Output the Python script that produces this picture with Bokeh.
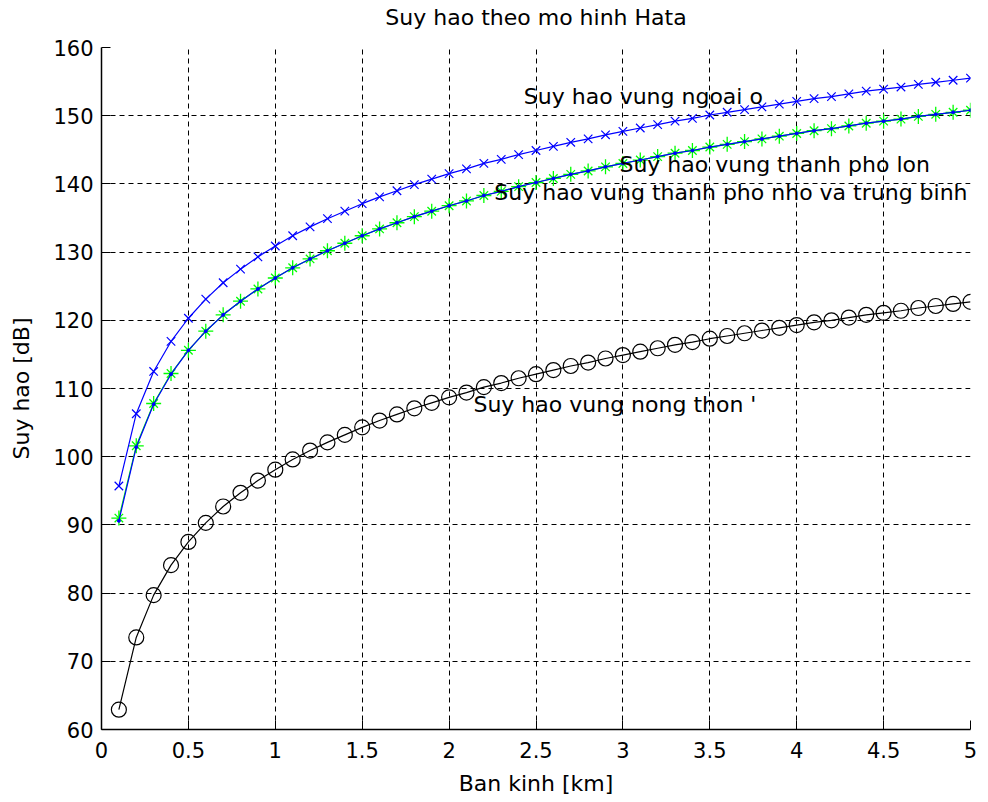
from bokeh.plotting import figure
from bokeh.models import FixedTicker, Range1d, Label, LinearAxis
from bokeh.embed import file_html
from bokeh.resources import INLINE

# ---- data ----
ban_kinh = [0.1, 0.2, 0.3, 0.4, 0.5, 0.6, 0.7, 0.8, 0.9, 1.0,
            1.1, 1.2, 1.3, 1.4, 1.5, 1.6, 1.7, 1.8, 1.9, 2.0,
            2.1, 2.2, 2.3, 2.4, 2.5, 2.6, 2.7, 2.8, 2.9, 3.0,
            3.1, 3.2, 3.3, 3.4, 3.5, 3.6, 3.7, 3.8, 3.9, 4.0,
            4.1, 4.2, 4.3, 4.4, 4.5, 4.6, 4.7, 4.8, 4.9, 5.0]

suy_hao_ngoai_o = [95.7, 106.3, 112.5, 116.9, 120.3, 123.1, 125.5, 127.5, 129.3, 130.9,
                   132.4, 133.7, 134.9, 136.0, 137.1, 138.1, 139.0, 139.9, 140.7, 141.5,
                   142.2, 143.0, 143.6, 144.3, 144.9, 145.5, 146.1, 146.6, 147.2, 147.7,
                   148.2, 148.7, 149.2, 149.6, 150.1, 150.5, 150.9, 151.3, 151.7, 152.1,
                   152.5, 152.8, 153.2, 153.6, 153.9, 154.2, 154.6, 154.9, 155.2, 155.5]

suy_hao_tp_lon = [91.0, 101.6, 107.8, 112.2, 115.6, 118.4, 120.8, 122.8, 124.6, 126.2,
                  127.7, 129.0, 130.2, 131.3, 132.4, 133.4, 134.3, 135.2, 136.0, 136.8,
                  137.5, 138.3, 138.9, 139.6, 140.2, 140.8, 141.4, 141.9, 142.5, 143.0,
                  143.5, 144.0, 144.5, 144.9, 145.4, 145.8, 146.2, 146.6, 147.0, 147.4,
                  147.8, 148.1, 148.5, 148.9, 149.2, 149.5, 149.9, 150.2, 150.5, 150.8]

suy_hao_tp_nho_tb = [90.6, 101.4, 107.7, 112.1, 115.6, 118.4, 120.8, 122.8, 124.6, 126.2,
                     127.7, 129.0, 130.2, 131.3, 132.4, 133.4, 134.3, 135.2, 136.0, 136.8,
                     137.5, 138.3, 138.9, 139.6, 140.2, 140.8, 141.4, 141.9, 142.5, 143.0,
                     143.5, 144.0, 144.5, 144.9, 145.4, 145.8, 146.2, 146.6, 147.0, 147.4,
                     147.8, 148.1, 148.5, 148.9, 149.2, 149.5, 149.9, 150.2, 150.5, 150.8]

suy_hao_nong_thon = [62.9, 73.5, 79.7, 84.1, 87.5, 90.3, 92.7, 94.7, 96.5, 98.1,
                     99.6, 100.9, 102.1, 103.2, 104.3, 105.3, 106.2, 107.1, 107.9, 108.7,
                     109.4, 110.2, 110.8, 111.5, 112.1, 112.7, 113.3, 113.8, 114.4, 114.9,
                     115.4, 115.9, 116.4, 116.8, 117.3, 117.7, 118.1, 118.5, 118.9, 119.3,
                     119.7, 120.0, 120.4, 120.8, 121.1, 121.4, 121.8, 122.1, 122.4, 122.7]

x_ticks = [0, 0.5, 1, 1.5, 2, 2.5, 3, 3.5, 4, 4.5, 5]
x_tick_labels = ["0", "0.5", "1", "1.5", "2", "2.5", "3", "3.5", "4", "4.5", "5"]
y_ticks = [60, 70, 80, 90, 100, 110, 120, 130, 140, 150, 160]
y_tick_labels = ["60", "70", "80", "90", "100", "110", "120", "130", "140", "150", "160"]

nhan_text = ["Suy hao vung ngoai o",
             "Suy hao vung thanh pho lon",
             "Suy hao vung thanh pho nho va trung binh",
             "Suy hao vung nong thon '"]
nhan_x = [2.43, 2.98, 2.26, 2.14]
nhan_y = [152.8, 142.8, 138.7, 107.6]

tieu_de = "Suy hao theo mo hinh Hata"
nhan_truc_x = "Ban kinh [km]"
nhan_truc_y = "Suy hao [dB]"

FONT = "DejaVu Sans"

p = figure(width=980, height=798, output_backend="svg", toolbar_location=None,
           x_range=Range1d(0, 5), y_range=Range1d(60, 160),
           min_border_left=101, min_border_right=10, min_border_top=47, min_border_bottom=66)
p.outline_line_color = None
p.background_fill_color = "white"
p.border_fill_color = "white"

for ax, ticks, labels in ((p.xaxis[0], x_ticks, x_tick_labels), (p.yaxis[0], y_ticks, y_tick_labels)):
    ax.ticker = FixedTicker(ticks=ticks)
    ax.major_label_overrides = {float(t): l for t, l in zip(ticks, labels)}
    ax.major_label_text_font = FONT
    ax.major_label_text_font_size = "21px"
    ax.major_label_text_color = "black"
    ax.axis_label_text_font = FONT
    ax.axis_label_text_font_size = "22px"
    ax.axis_label_text_font_style = "normal"
    ax.axis_label_text_color = "black"
    ax.axis_line_color = "black"
    ax.axis_line_width = 1.5
    ax.major_tick_line_color = "black"
    ax.major_tick_in = 9
    ax.major_tick_out = 0
    ax.minor_tick_line_color = None

p.xaxis.axis_label = nhan_truc_x
p.yaxis.axis_label = nhan_truc_y
p.xaxis.major_label_standoff = 12
p.xaxis.axis_label_standoff = 10
p.yaxis.major_label_standoff = 8
p.yaxis.axis_label_standoff = 16

# title carried by a bare axis above the frame (no line, ticks or tick labels)
title_axis = LinearAxis(ticker=FixedTicker(ticks=[]), axis_label=tieu_de,
                        axis_line_color=None, major_tick_line_color=None,
                        minor_tick_line_color=None, major_label_text_font_size="0px",
                        major_label_standoff=0, major_tick_in=0, major_tick_out=0,
                        axis_label_standoff=18, axis_label_text_font=FONT,
                        axis_label_text_font_size="22px", axis_label_text_font_style="normal",
                        axis_label_text_color="black")
p.add_layout(title_axis, "above")

p.grid.grid_line_color = "black"
p.grid.grid_line_dash = "5 4"
p.grid.grid_line_width = 1
p.grid.grid_line_alpha = 1

# large city: green line with 8-armed stars
p.line(ban_kinh, suy_hao_tp_lon, line_color="#00ff00", line_width=1.2)
p.scatter(ban_kinh, suy_hao_tp_lon, marker="cross", size=15, line_color="#00ff00", line_width=1.3)
p.scatter(ban_kinh, suy_hao_tp_lon, marker="x", size=12, line_color="#00ff00", line_width=1.3)

# small / medium city: blue line with dots
p.line(ban_kinh, suy_hao_tp_nho_tb, line_color="#0000ff", line_width=1.2)
p.scatter(ban_kinh, suy_hao_tp_nho_tb, marker="circle", size=3, line_color="#0000ff", fill_color="#0000ff")

# suburban: blue x
p.line(ban_kinh, suy_hao_ngoai_o, line_color="#0000ff", line_width=1.2)
p.scatter(ban_kinh, suy_hao_ngoai_o, marker="x", size=12, line_color="#0000ff", line_width=1.2)

# rural: black circles
p.line(ban_kinh, suy_hao_nong_thon, line_color="black", line_width=1.2)
p.scatter(ban_kinh, suy_hao_nong_thon, marker="circle", size=15, line_color="black",
          fill_color=None, line_width=1.2)

for t, x, y in zip(nhan_text, nhan_x, nhan_y):
    p.add_layout(Label(x=x, y=y, text=t, text_font=FONT, text_font_size="22px",
                       text_color="black", text_baseline="middle", text_align="left"))

open("out.html", "w").write(file_html(p, INLINE))
